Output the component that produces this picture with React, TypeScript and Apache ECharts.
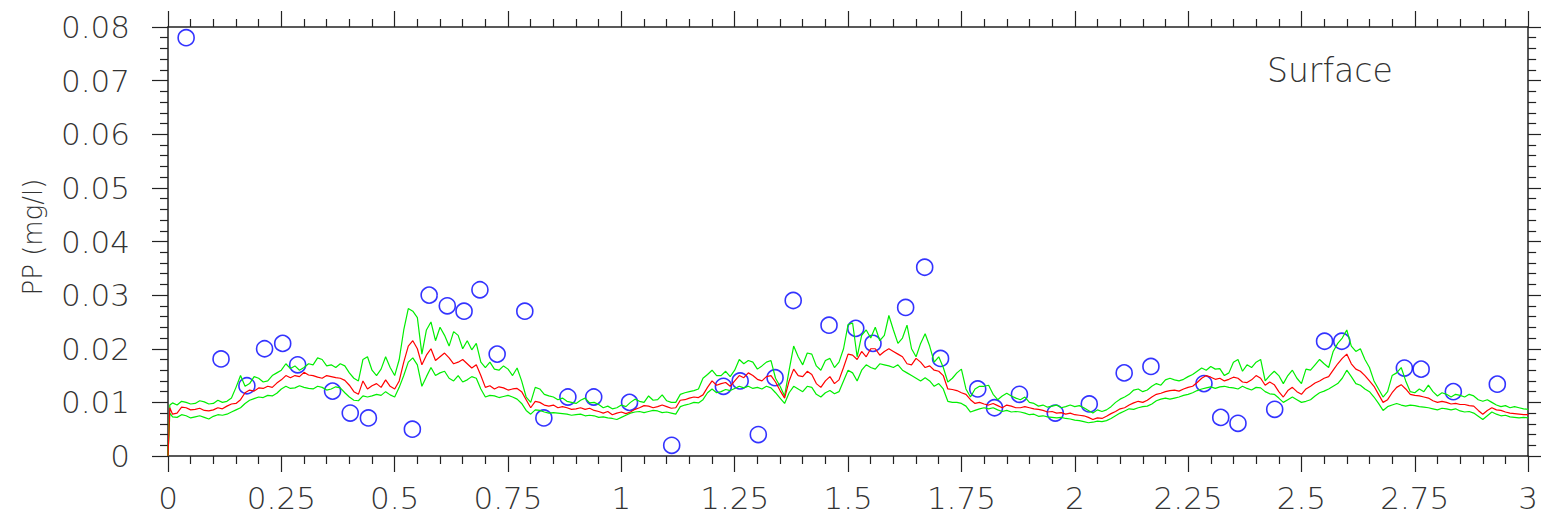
import React, { useEffect, useRef } from "react";
import * as echarts from "echarts";

// sample positions along the distance axis: start point, then every 0.01
const SAMPLE_X: number[] = [0, 0.004, ...Array.from({ length: 300 }, (_, i) => Number(((i + 1) * 0.01).toFixed(2)))];

const MEAN_PP = [
  0, 0.009,
  0.0078, 0.008, 0.0091, 0.009, 0.0086, 0.0087, 0.0089, 0.0085, 0.0084, 0.0086,
  0.009, 0.0088, 0.0093, 0.0097, 0.0098, 0.0105, 0.0118, 0.0123, 0.0121, 0.0127,
  0.0126, 0.013, 0.0128, 0.0136, 0.0142, 0.015, 0.0146, 0.015, 0.0148, 0.0156,
  0.0151, 0.015, 0.0147, 0.0145, 0.015, 0.0148, 0.0146, 0.0145, 0.0141, 0.0132,
  0.012, 0.0115, 0.014, 0.0125, 0.0131, 0.0135, 0.0128, 0.0142, 0.013, 0.0125,
  0.014, 0.0175, 0.0205, 0.0215, 0.02, 0.017, 0.0188, 0.02, 0.0178, 0.0185,
  0.0192, 0.0183, 0.0172, 0.0175, 0.018, 0.0172, 0.0164, 0.017, 0.015, 0.0128,
  0.0131, 0.0125, 0.0129, 0.0127, 0.0123, 0.0125, 0.0126, 0.012, 0.0105, 0.009,
  0.0102, 0.01, 0.0095, 0.0093, 0.0095, 0.009, 0.0092, 0.009, 0.0087, 0.0088,
  0.009, 0.0087, 0.0089, 0.0085, 0.0083, 0.008, 0.0083, 0.0077, 0.008, 0.0082,
  0.0079, 0.0082, 0.0087, 0.009, 0.0094, 0.0093, 0.009, 0.0092, 0.0095, 0.0092,
  0.0089, 0.009, 0.0104, 0.0105, 0.0108, 0.011, 0.0109, 0.0114, 0.0128, 0.014,
  0.0132, 0.0135, 0.0137, 0.013, 0.014, 0.015, 0.0146, 0.0155, 0.015, 0.0143,
  0.014, 0.0148, 0.015, 0.0138, 0.0122, 0.0108, 0.014, 0.0162, 0.015, 0.0148,
  0.0158, 0.0152, 0.0135, 0.0128, 0.014, 0.0148, 0.0135, 0.0142, 0.0165, 0.019,
  0.0188, 0.018, 0.0195, 0.0185, 0.02, 0.02, 0.0188, 0.0195, 0.02, 0.0195,
  0.019, 0.0185, 0.0172, 0.017, 0.0182, 0.0175, 0.0165, 0.0168, 0.016, 0.0158,
  0.015, 0.0125, 0.0124, 0.0122, 0.0118, 0.0115, 0.0105, 0.0098, 0.01, 0.0097,
  0.0095, 0.0098, 0.0094, 0.009, 0.0095, 0.0093, 0.009, 0.009, 0.0092, 0.009,
  0.0088, 0.0087, 0.0085, 0.0082, 0.0083, 0.008, 0.0081, 0.0078, 0.008, 0.0077,
  0.0076, 0.0075, 0.0072, 0.0068, 0.0071, 0.007, 0.0074, 0.0079, 0.0083, 0.0088,
  0.009, 0.0095, 0.0099, 0.0102, 0.01, 0.0104, 0.011, 0.0115, 0.0117, 0.012,
  0.0122, 0.0123, 0.0121, 0.0125, 0.0128, 0.013, 0.0137, 0.0145, 0.015, 0.0147,
  0.0143, 0.0145, 0.014, 0.0143, 0.0147, 0.0145, 0.0138, 0.0137, 0.0142, 0.015,
  0.0145, 0.0132, 0.0138, 0.0133, 0.012, 0.011, 0.0122, 0.0128, 0.012, 0.0115,
  0.0125, 0.013, 0.0136, 0.014, 0.0145, 0.0148, 0.016, 0.0172, 0.0182, 0.019,
  0.0172, 0.0162, 0.0158, 0.015, 0.014, 0.013, 0.0115, 0.01, 0.0105, 0.0118,
  0.0128, 0.0133, 0.0125, 0.0115, 0.0113, 0.0112, 0.011, 0.0108, 0.0103, 0.01,
  0.0102, 0.01, 0.0097, 0.0098, 0.0096, 0.0096, 0.0094, 0.0093, 0.0085, 0.0078,
  0.0085, 0.009, 0.0086, 0.0085, 0.0082, 0.008, 0.0079, 0.0078, 0.0077, 0.0077,
];

const UPPER_PP = [
  0, 0.0095,
  0.0099, 0.0095, 0.0102, 0.01, 0.0097, 0.0098, 0.0103, 0.0101, 0.0097, 0.0098,
  0.0104, 0.01, 0.0102, 0.0108, 0.0128, 0.015, 0.013, 0.0135, 0.0148, 0.0145,
  0.0138, 0.014, 0.015, 0.0155, 0.016, 0.0172, 0.0163, 0.0168, 0.016, 0.0165,
  0.0172, 0.017, 0.0183, 0.018, 0.0168, 0.017, 0.0165, 0.0172, 0.0168, 0.0155,
  0.0145, 0.014, 0.018, 0.0185, 0.016, 0.015, 0.0162, 0.0185, 0.0165, 0.015,
  0.018, 0.0235, 0.0275, 0.027, 0.0258, 0.019, 0.0235, 0.025, 0.0215, 0.024,
  0.0225, 0.0205, 0.0232, 0.0225, 0.02, 0.0215, 0.0198, 0.021, 0.0175, 0.0165,
  0.0175, 0.0162, 0.016, 0.0168, 0.0162, 0.015, 0.0164, 0.014, 0.011, 0.01,
  0.0128, 0.0125, 0.0115, 0.0112, 0.011, 0.0105, 0.0108, 0.0102, 0.01, 0.0098,
  0.0104, 0.0108, 0.0099, 0.01, 0.0096, 0.009, 0.0093, 0.0088, 0.009, 0.0095,
  0.0092, 0.01, 0.0106, 0.0102, 0.01, 0.0112, 0.0104, 0.0105, 0.0114, 0.0103,
  0.01, 0.01, 0.0115, 0.0118, 0.012, 0.0122, 0.0125, 0.0145, 0.0152, 0.016,
  0.015, 0.015, 0.0158, 0.0148, 0.016, 0.018, 0.0172, 0.0178, 0.0175, 0.0162,
  0.0168, 0.0175, 0.0178, 0.0145, 0.013, 0.0112, 0.016, 0.0205, 0.0185, 0.017,
  0.0192, 0.019, 0.0168, 0.016, 0.0178, 0.0182, 0.0165, 0.0175, 0.02, 0.0245,
  0.0248, 0.0185, 0.0225, 0.0235, 0.022, 0.024, 0.0215, 0.0225, 0.0262, 0.0235,
  0.021, 0.022, 0.0244, 0.02, 0.0185, 0.021, 0.0228, 0.0205, 0.0175, 0.0185,
  0.0165, 0.0138, 0.0145, 0.0155, 0.0162, 0.0125, 0.011, 0.0125, 0.013, 0.013,
  0.0132, 0.0115, 0.0105, 0.0112, 0.0117, 0.0112, 0.0108, 0.0105, 0.011, 0.01,
  0.0098, 0.0093, 0.0095, 0.0091, 0.0093, 0.0095, 0.009, 0.0092, 0.0095, 0.0092,
  0.0094, 0.009, 0.0085, 0.008, 0.0086, 0.0083, 0.0086, 0.0092, 0.01, 0.0106,
  0.011, 0.0115, 0.0123, 0.0125, 0.012, 0.0123, 0.013, 0.0135, 0.0132, 0.0142,
  0.0145, 0.0142, 0.014, 0.0143, 0.0148, 0.0152, 0.0158, 0.0164, 0.016, 0.0167,
  0.0162, 0.0163, 0.015, 0.0155, 0.0175, 0.018, 0.0158, 0.017, 0.0165, 0.0175,
  0.018, 0.014, 0.015, 0.0158, 0.015, 0.0135, 0.015, 0.016, 0.0145, 0.0135,
  0.0162, 0.016, 0.017, 0.018, 0.0172, 0.0165, 0.0195, 0.021, 0.022, 0.0235,
  0.0205, 0.0195, 0.02, 0.018, 0.0165, 0.014, 0.0125, 0.011, 0.012, 0.015,
  0.0155, 0.0165, 0.014, 0.012, 0.0118, 0.0125, 0.012, 0.0132, 0.012, 0.0112,
  0.0118, 0.0115, 0.011, 0.0115, 0.0113, 0.011, 0.0115, 0.0112, 0.0105, 0.0102,
  0.0105, 0.01, 0.0095, 0.0092, 0.0094, 0.009, 0.0092, 0.009, 0.0088, 0.0087,
];

const LOWER_PP = [
  0, 0.008,
  0.0073, 0.0072, 0.0077, 0.0075, 0.0071, 0.0073, 0.0075, 0.0072, 0.0069, 0.0074,
  0.0077, 0.0076, 0.0078, 0.0082, 0.0086, 0.009, 0.0098, 0.0104, 0.0107, 0.011,
  0.0109, 0.0113, 0.0112, 0.0117, 0.0125, 0.013, 0.0126, 0.0127, 0.0131, 0.0128,
  0.0126, 0.0125, 0.013, 0.0128, 0.0123, 0.0125, 0.0129, 0.0127, 0.0118, 0.011,
  0.0104, 0.0103, 0.0112, 0.011, 0.0112, 0.0115, 0.0113, 0.012, 0.0114, 0.011,
  0.0128, 0.015, 0.0175, 0.0183, 0.017, 0.013, 0.0148, 0.0165, 0.015, 0.0155,
  0.0158, 0.0145, 0.014, 0.015, 0.0138, 0.0142, 0.0148, 0.0145, 0.0125, 0.011,
  0.0113, 0.0112, 0.0109, 0.0111, 0.0113, 0.011, 0.0106, 0.0098, 0.0085, 0.0078,
  0.0086, 0.0085, 0.0082, 0.008, 0.0081, 0.008, 0.0079, 0.0078, 0.0076, 0.0077,
  0.0078, 0.0075, 0.0076, 0.0075, 0.0072, 0.0073, 0.0071, 0.007, 0.0068, 0.0072,
  0.0076, 0.008, 0.0082, 0.0083, 0.0081, 0.0083, 0.0085, 0.0084, 0.0081, 0.0082,
  0.008, 0.0078, 0.0092, 0.0095, 0.0097, 0.01, 0.0099, 0.0105, 0.0118, 0.0125,
  0.0118, 0.012, 0.0124, 0.0122, 0.0126, 0.013, 0.0127, 0.013, 0.0126, 0.0128,
  0.0125, 0.013, 0.0127, 0.0118, 0.0108, 0.0098, 0.0118, 0.013, 0.0125, 0.012,
  0.013, 0.0128, 0.0115, 0.011, 0.0118, 0.0122, 0.0116, 0.012, 0.014, 0.016,
  0.0155, 0.014, 0.016, 0.017, 0.0165, 0.0162, 0.0172, 0.017, 0.0168, 0.0165,
  0.017, 0.016, 0.0155, 0.015, 0.0145, 0.014, 0.0146, 0.014, 0.013, 0.0135,
  0.0125, 0.0102, 0.01, 0.01, 0.0098, 0.0093, 0.0082, 0.0085, 0.0088, 0.009,
  0.0088, 0.009, 0.0086, 0.0083, 0.0085, 0.0082, 0.0083, 0.0082, 0.008, 0.0077,
  0.0078, 0.0074, 0.0075, 0.0073, 0.0072, 0.0071, 0.0072, 0.007, 0.0069, 0.0067,
  0.0066, 0.0064, 0.0062, 0.0063, 0.0065, 0.0064, 0.0066, 0.007, 0.0075, 0.008,
  0.0084, 0.0088, 0.0087, 0.009, 0.0092, 0.0093, 0.0097, 0.0103, 0.0106, 0.0108,
  0.0106, 0.0108, 0.011, 0.0113, 0.0115, 0.0118, 0.0122, 0.0125, 0.0127, 0.0129,
  0.0126, 0.0129, 0.013, 0.0128, 0.0127, 0.0125, 0.013, 0.0126, 0.0123, 0.0128,
  0.0127, 0.012, 0.0116, 0.0115, 0.0108, 0.01, 0.0105, 0.011, 0.0105, 0.01,
  0.0102, 0.0105, 0.0112, 0.0118, 0.0121, 0.0125, 0.013, 0.0135, 0.0145, 0.016,
  0.0148, 0.0135, 0.0132, 0.0125, 0.012, 0.011, 0.0098, 0.0085, 0.0092, 0.0095,
  0.0098, 0.0095, 0.0093, 0.0095, 0.0094, 0.0092, 0.0091, 0.009, 0.0088, 0.0086,
  0.0089, 0.0088, 0.0086, 0.0088, 0.0084, 0.0082, 0.0083, 0.008, 0.0074, 0.0068,
  0.0075, 0.0082, 0.0078, 0.0075, 0.0076, 0.0073, 0.0072, 0.0071, 0.0072, 0.0071,
];

const OBS_X = [
  0.04, 0.117, 0.174, 0.213, 0.253, 0.286, 0.363, 0.402, 0.442, 0.539,
  0.576, 0.616, 0.653, 0.688, 0.726, 0.787, 0.829, 0.882, 0.939, 1.018,
  1.111, 1.225, 1.262, 1.302, 1.339, 1.379, 1.458, 1.517, 1.555, 1.627,
  1.669, 1.704, 1.786, 1.823, 1.878, 1.957, 2.032, 2.109, 2.168, 2.285,
  2.322, 2.36, 2.441, 2.551, 2.589, 2.727, 2.764, 2.835, 2.932,
];
const OBS_PP = [
  0.078, 0.0181, 0.0131, 0.02, 0.021, 0.017, 0.0121, 0.008, 0.0071, 0.005,
  0.03, 0.028, 0.027, 0.031, 0.019, 0.027, 0.0071, 0.011, 0.011, 0.01,
  0.002, 0.013, 0.014, 0.004, 0.0146, 0.029, 0.0244, 0.0238, 0.021, 0.0277,
  0.0352, 0.0182, 0.0125, 0.009, 0.0115, 0.008, 0.0097, 0.0155, 0.0167, 0.0135,
  0.0072, 0.0061, 0.0087, 0.0214, 0.0214, 0.0164, 0.0162, 0.012, 0.0134,
];

const X_TICK_STEP = 0.25;
const Y_TICK_STEP = 0.01;
const PANEL_LABEL = "Surface";
const Y_NAME = "PP (mg/l)";

const FONT = "DejaVu Sans";
const INK = "#222";
const TEXT_INK = "#333";

export default function App() {
  const ref = useRef<HTMLDivElement>(null);
  useEffect(() => {
    if (!ref.current) return;
    const chart = echarts.init(ref.current, undefined, { renderer: "svg" });
    const pair = (ys: number[]) => SAMPLE_X.map((x, i) => [x, ys[i]]);
    const lineStyle = { color: INK, width: 1.5 };
    const tickStyle = { color: INK, width: 1.2 };
    const baseX = {
      type: "value" as const,
      min: 0,
      max: 3,
      interval: X_TICK_STEP,
      splitLine: { show: false },
      axisLine: { show: true, onZero: false, lineStyle },
      axisTick: { show: true, inside: false, length: 16, lineStyle: tickStyle },
      minorTick: { show: true, splitNumber: 5, length: 8, lineStyle: tickStyle },
    };
    const baseY = {
      type: "value" as const,
      min: 0,
      max: 0.08,
      interval: Y_TICK_STEP,
      splitLine: { show: false },
      axisLine: { show: true, onZero: false, lineStyle },
      axisTick: { show: true, inside: false, length: 16, lineStyle: tickStyle },
      minorTick: { show: true, splitNumber: 5, length: 8, lineStyle: tickStyle },
    };
    const labelFont = { fontSize: 31, fontFamily: FONT, fontWeight: 200, color: TEXT_INK };
    chart.setOption({
      animation: false,
      backgroundColor: "#fff",
      grid: { left: 168, right: 9, top: 27, bottom: 60, containLabel: false },
      xAxis: [
        { ...baseX, position: "bottom", axisLabel: { ...labelFont, margin: 26 } },
        { ...baseX, position: "top", axisLabel: { show: false } },
      ],
      yAxis: [
        { ...baseY, position: "left", axisLabel: { ...labelFont, margin: 38 } },
        { ...baseY, position: "right", axisLabel: { show: false } },
      ],
      graphic: [
        {
          type: "text",
          left: 1267,
          top: 54,
          style: { text: PANEL_LABEL, fontSize: 33, fontFamily: FONT, fontWeight: 200, fill: TEXT_INK },
        },
        {
          type: "text",
          x: 33,
          y: 237,
          rotation: Math.PI / 2,
          style: {
            text: Y_NAME,
            fontSize: 26,
            fontFamily: FONT,
            fontWeight: 200,
            fill: TEXT_INK,
            align: "center",
            verticalAlign: "middle",
          },
        },
      ],
      series: [
        {
          type: "line",
          xAxisIndex: 0,
          yAxisIndex: 0,
          data: pair(UPPER_PP),
          showSymbol: false,
          lineStyle: { color: "#00ee00", width: 1.2 },
        },
        {
          type: "line",
          xAxisIndex: 0,
          yAxisIndex: 0,
          data: pair(LOWER_PP),
          showSymbol: false,
          lineStyle: { color: "#00ee00", width: 1.2 },
        },
        {
          type: "line",
          xAxisIndex: 0,
          yAxisIndex: 0,
          data: pair(MEAN_PP),
          showSymbol: false,
          lineStyle: { color: "#ff0000", width: 1.2 },
        },
        {
          type: "scatter",
          xAxisIndex: 0,
          yAxisIndex: 0,
          data: OBS_X.map((x, i) => [x, OBS_PP[i]]),
          symbol: "circle",
          symbolSize: 16,
          itemStyle: { color: "rgba(0,0,0,0)", borderColor: "#0000ff", borderWidth: 1.6 },
        },
      ],
    });
    return () => chart.dispose();
  }, []);
  return (
    <div
      ref={ref}
      style={{ position: "absolute", left: 0, top: 0, width: 1541, height: 516, background: "#fff" }}
    />
  );
}
